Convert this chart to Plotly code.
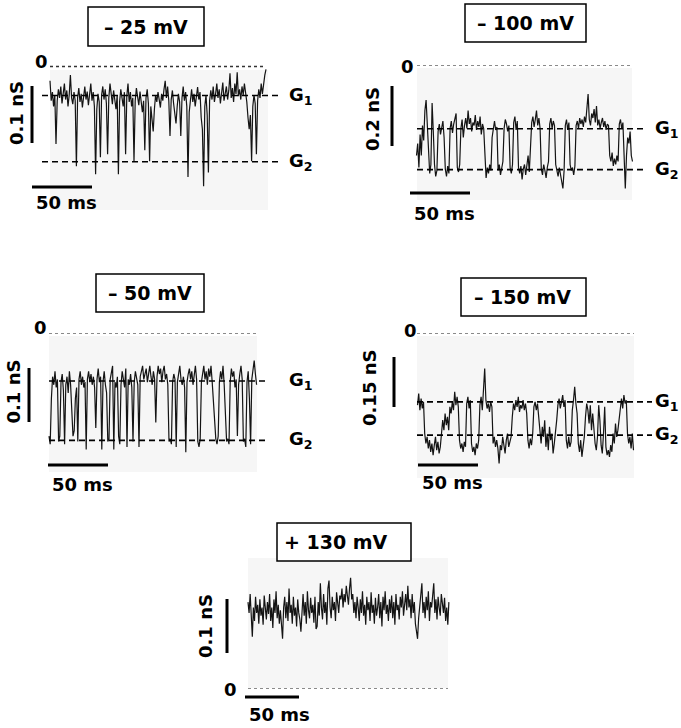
import numpy as np
import plotly.graph_objects as go

W, H = 681, 728

# ---------------- data (conductance traces, pS; sampled every 1 ms) -------------
voltages = ["\u2013 25 mV", "\u2013 100 mV", "\u2013 50 mV", "\u2013 150 mV", "+ 130 mV"]

trace_m25 = [
    -25, -60, -45, -70, -50, -136, -60, -40, -55, -35,
    -65, -48, -30, -58, -42, -70, -50, -15, -55, -66,
    -45, -60, -175, -55, -38, -62, -48, -72, -50, -35,
    -58, -44, -68, -52, -30, -60, -45, -70, -189, -75,
    -48, -62, -159, -50, -35, -58, -40, -65, -154, -55,
    -30, -48, -66, -42, -58, -75, -50, -189, -62, -40,
    -55, -70, -45, -154, -52, -30, -62, -45, -70, -55,
    -166, -60, -38, -52, -68, -44, -58, -80, -60, -147,
    -55, -40, -65, -166, -70, -90, -114, -75, -50, -62,
    -45, -58, -72, -48, -60, -40, -25, -55, -35, -60,
    -122, -58, -42, -65, -85, -100, -70, -48, -62, -122,
    -55, -35, -60, -45, -70, -194, -80, -55, -40, -62,
    -48, -70, -52, -36, -58, -45, -90, -110, -210, -70,
    -50, -85, -186, -60, -42, -58, -35, -62, -48, -30,
    -55, -40, -65, -50, -28, -60, -45, -35, -58, -42,
    -12, -55, -38, -62, -30, -48, -10, -52, -40, -58,
    -35, -50, -30, -45, -62, -90, -110, -85, -166, -70,
    -50, -65, -154, -60, -40, -55, -30, -48, -25, -15,
    -5,
]

trace_m100 = [
    -300, -260, -340, -230, -300, -200, -250, -150, -115, -210,
    -300, -360, -330, -125, -220, -330, -370, -350, -220, -195,
    -230, -205, -185, -240, -345, -370, -335, -360, -210, -185,
    -225, -195, -170, -160, -340, -355, -330, -210, -180, -240,
    -200, -175, -210, -150, -195, -175, -220, -190, -200, -165,
    -215, -185, -205, -170, -230, -195, -210, -320, -375, -340,
    -360, -330, -350, -240, -200, -185, -215, -205, -350, -330,
    -365, -345, -320, -210, -180, -195, -220, -200, -340, -360,
    -330, -190, -170, -215, -185, -340, -360, -335, -380, -345,
    -330, -365, -340, -300, -355, -260, -190, -170, -205, -180,
    -150, -200, -175, -210, -345, -365, -330, -350, -375, -340,
    -320, -195, -175, -210, -185, -200, -330, -350, -370, -340,
    -360, -390, -410, -350, -200, -180, -215, -190, -330, -350,
    -340, -365, -335, -200, -185, -210, -175, -195, -180, -205,
    -170, -190, -150, -95, -180, -200, -160, -175, -145, -190,
    -135, -200, -180, -210, -190, -175, -205, -185, -215, -195,
    -200, -300, -320, -290, -335, -310, -330, -300, -320, -195,
    -180, -210, -190, -350, -410, -300, -240, -260, -220, -300,
    -320,
]

trace_m50 = [
    -190, -205, -120, -80, -95, -70, -100, -85, -200, -190,
    -90, -75, -105, -205, -95, -80, -110, -70, -95, -150,
    -190, -180, -120, -100, -200, -85, -70, -95, -80, -100,
    -90, -215, -85, -70, -90, -75, -95, -80, -100, -175,
    -85, -65, -90, -80, -215, -90, -70, -95, -110, -200,
    -195, -85, -75, -60, -215, -90, -100, -80, -190, -205,
    -95, -70, -85, -100, -65, -210, -85, -95, -75, -100,
    -200, -90, -70, -85, -95, -210, -80, -70, -60, -85,
    -75, -65, -90, -70, -60, -80, -95, -70, -85, -165,
    -80, -60, -75, -65, -90, -70, -60, -85, -75, -95,
    -200, -195, -205, -90, -75, -85, -210, -90, -70, -60,
    -85, -95, -80, -100, -220, -90, -75, -65, -85, -70,
    -95, -80, -60, -85, -200, -210, -195, -90, -75, -60,
    -85, -70, -95, -65, -80, -60, -90, -120, -150, -195,
    -205, -190, -90, -70, -85, -60, -95, -160, -200, -195,
    -205, -90, -65, -80, -70, -100, -85, -190, -95, -75,
    -60, -85, -200, -195, -210, -90, -70, -120, -205, -85,
    -60, -50, -75, -95,
]

trace_m150 = [
    -215, -180, -230, -195, -225, -205, -300, -330, -310, -345,
    -320, -355, -330, -365, -335, -310, -350, -325, -360, -340,
    -300, -260, -290, -240, -275, -250, -290, -220, -240, -205,
    -230, -175, -215, -190, -220, -320, -345, -330, -355, -325,
    -340, -210, -190, -225, -200, -330, -355, -340, -365, -330,
    -345, -320, -215, -190, -230, -170, -105, -200, -225, -210,
    -235, -205, -220, -330, -310, -340, -320, -345, -390, -335,
    -350, -310, -330, -360, -320, -300, -340, -325, -310, -250,
    -210, -230, -200, -220, -190, -235, -215, -225, -200, -230,
    -210, -240, -320, -345, -315, -335, -300, -220, -205, -230,
    -210, -250, -300, -330, -280, -310, -260, -340, -300, -350,
    -280, -320, -300, -360, -330, -300, -260, -215, -195, -225,
    -205, -185, -220, -200, -320, -345, -310, -340, -325, -230,
    -200, -160, -210, -240, -330, -355, -320, -370, -340, -310,
    -250, -210, -230, -270, -215, -290, -240, -300, -330, -350,
    -310, -215, -260, -335, -360, -300, -220, -340, -365, -350,
    -370, -335, -355, -300, -330, -270, -310, -290, -250, -215,
    -195, -225, -185, -210, -200, -300, -330, -310, -345, -300,
    -350,
]

trace_p130 = [
    160, 140, 175, 130, 96, 150, 125, 170, 140, 155,
    120, 165, 135, 150, 118, 172, 145, 128, 160, 138,
    175, 125, 150, 112, 165, 140, 180, 130, 155, 120,
    145, 110, 92, 150, 170, 130, 160, 125, 185, 140,
    155, 120, 170, 135, 150, 115, 165, 140, 128, 105,
    150, 175, 135, 160, 120, 180, 145, 130, 168, 140,
    155, 122, 170, 110, 115, 160, 135, 195, 150, 128,
    175, 140, 160, 118, 185, 200, 150, 130, 170, 145,
    160, 125, 178, 150, 140, 172, 165, 185, 150, 175,
    160, 190, 170, 155, 185, 205, 165, 175, 140, 160,
    130, 170, 150, 125, 165, 140, 180, 135, 155, 118,
    170, 145, 160, 125, 178, 140, 155, 120, 168, 135,
    150, 175, 130, 160, 115, 170, 145, 180, 138, 155,
    125, 165, 140, 172, 130, 160, 118, 175, 145, 155,
    128, 170, 150, 180, 135, 160, 175, 145, 190, 150,
    165, 130, 175, 140, 160, 120, 105, 92, 130, 150,
    175, 195, 140, 160, 130, 170, 145, 180, 125, 160,
    150, 172, 195, 140, 165, 128, 170, 150, 135, 175,
    155, 140, 168, 125, 150, 118, 160,
]

traces = [trace_m25, trace_m100, trace_m50, trace_m150, trace_p130]

# conductance levels G1, G2 (pS) per panel (None = no levels drawn)
levels_G1 = [-51, -211, -88, -205, None]
levels_G2 = [-167, -347, -198, -305, None]

scale_bar_pS = [100, 200, 100, 150, 100]
scale_bar_labels = ["0.1 nS", "0.2 nS", "0.1 nS", "0.15 nS", "0.1 nS"]
time_bar_ms = 50
time_bar_label = "50 ms"
dt_ms = 1.0

# ---------------- layout geometry (pixels) ----------------
panels = [
    dict(x0=50, y0=66.5, sx=1.2, sy=0.57, zero=(50, 266), glines=(42, 278), glab=287,
         bg=(50, 70, 268, 210), vbar=(32, 86), hbar=(32, 187), zlab=(41.5, 61),
         slab=(16, 113), mlab=(66, 202), box=(88, 7, 204, 46), btxt=(146, 27),
         zcol="#333333", zw=1.4),
    dict(x0=416.5, y0=65.5, sx=1.2, sy=0.30, zero=(417, 632), glines=(417, 645), glab=653,
         bg=(417, 68, 632, 200), vbar=(392, 86), hbar=(410, 193), zlab=(407.5, 66),
         slab=(373, 119), mlab=(444, 213), box=(465, 4, 586, 42), btxt=(525, 23),
         zcol="#8a8a8a", zw=1),
    dict(x0=49, y0=333.5, sx=1.2, sy=0.54, zero=(49, 257), glines=(49, 268), glab=287,
         bg=(49, 336, 257, 472), vbar=(29, 368), hbar=(48, 465), zlab=(40, 328),
         slab=(12.5, 392), mlab=(82, 484), box=(96, 274, 204, 312), btxt=(150, 293),
         zcol="#8a8a8a", zw=1),
    dict(x0=417.5, y0=333.5, sx=1.2, sy=1 / 3, zero=(417, 634), glines=(417, 652), glab=653,
         bg=(417, 336, 634, 478), vbar=(394, 357), hbar=(418, 465), zlab=(410, 331),
         slab=(369, 388), mlab=(452, 482), box=(461, 278, 586, 316), btxt=(522, 297),
         zcol="#8a8a8a", zw=1),
    dict(x0=248, y0=688.5, sx=1.08, sy=0.54, zero=(248, 448), glines=None, glab=None,
         bg=(248, 558, 448, 688), vbar=(227, 599), hbar=(245, 697), zlab=(230, 689),
         slab=(205, 626), mlab=(279, 714), box=(277, 523, 411, 561), btxt=(336, 542),
         zcol="#8a8a8a", zw=1),
]

FAM = "DejaVu Sans, Liberation Sans, sans-serif"
FONT = dict(family=FAM, size=18, color="black", weight="bold")
FONT_BOX = dict(family=FAM, size=19, color="black", weight="bold")
FONT_G = dict(family=FAM, size=18, color="black", weight="bold")

fig = go.Figure()
layout = dict(width=W, height=H, margin=dict(l=0, r=0, t=0, b=0),
              paper_bgcolor="white", plot_bgcolor="rgba(0,0,0,0)", showlegend=False)
shapes, annotations = [], []


def px(x):
    return x / W


def py(y):
    return 1 - y / H


for k, (p, vals) in enumerate(zip(panels, traces), start=1):
    xa = "x" if k == 1 else f"x{k}"
    ya = "y" if k == 1 else f"y{k}"
    xkey = "xaxis" if k == 1 else f"xaxis{k}"
    ykey = "yaxis" if k == 1 else f"yaxis{k}"
    T = lambda X, p=p: (X - p["x0"]) / p["sx"]
    G = lambda Y, p=p: (p["y0"] - Y) / p["sy"]
    xd = dict(domain=[0, 1], range=[T(0), T(W)], visible=False, fixedrange=True, anchor=ya)
    yd = dict(domain=[0, 1], range=[G(H), G(0)], visible=False, fixedrange=True, anchor=xa)
    if k > 1:
        xd["overlaying"] = "x"
        yd["overlaying"] = "y"
    layout[xkey] = xd
    layout[ykey] = yd

    # light grey recording background
    bx0, by0, bx1, by1 = p["bg"]
    shapes.append(dict(type="rect", xref=xa, yref=ya, x0=T(bx0), x1=T(bx1), y0=G(by1), y1=G(by0),
                       fillcolor="#f6f6f6", line=dict(width=0), layer="below"))
    # zero level
    shapes.append(dict(type="line", xref=xa, yref=ya, x0=T(p["zero"][0]), x1=T(p["zero"][1]),
                       y0=0, y1=0, line=dict(color=p["zcol"], width=p["zw"], dash="dot")))
    # trace
    t = np.arange(len(vals)) * dt_ms
    fig.add_trace(go.Scatter(x=t, y=vals, xaxis=xa, yaxis=ya, mode="lines",
                             line=dict(color="#141414", width=1.2), hoverinfo="skip"))
    # G levels
    if levels_G1[k - 1] is not None:
        for lv, name in ((levels_G1[k - 1], "G<sub>1</sub>"), (levels_G2[k - 1], "G<sub>2</sub>")):
            shapes.append(dict(type="line", xref=xa, yref=ya, x0=T(p["glines"][0]), x1=T(p["glines"][1]),
                               y0=lv, y1=lv, line=dict(color="black", width=1.6, dash="6px,4px")))
            annotations.append(dict(xref=xa, yref=ya, x=T(p["glab"]), y=lv, text=name, showarrow=False,
                                    xanchor="left", yanchor="middle", font=FONT_G))
    # scale bars
    vx, vtop = p["vbar"]
    shapes.append(dict(type="line", xref=xa, yref=ya, x0=T(vx), x1=T(vx), y0=G(vtop),
                       y1=G(vtop) - scale_bar_pS[k - 1], line=dict(color="black", width=3)))
    hx, hy = p["hbar"]
    shapes.append(dict(type="line", xref=xa, yref=ya, x0=T(hx), x1=T(hx) + time_bar_ms, y0=G(hy),
                       y1=G(hy), line=dict(color="black", width=3)))
    # labels
    annotations.append(dict(xref="paper", yref="paper", x=px(p["zlab"][0]), y=py(p["zlab"][1]), text="0",
                            showarrow=False, xanchor="center", yanchor="middle", font=FONT))
    annotations.append(dict(xref="paper", yref="paper", x=px(p["slab"][0]), y=py(p["slab"][1]),
                            text=scale_bar_labels[k - 1], textangle=-90, showarrow=False,
                            xanchor="center", yanchor="middle", font=FONT))
    annotations.append(dict(xref="paper", yref="paper", x=px(p["mlab"][0]), y=py(p["mlab"][1]),
                            text=time_bar_label, showarrow=False, xanchor="center", yanchor="middle",
                            font=FONT))
    # voltage box
    x0, y0, x1, y1 = p["box"]
    shapes.append(dict(type="rect", xref="paper", yref="paper", x0=px(x0), x1=px(x1), y0=py(y1), y1=py(y0),
                       line=dict(color="black", width=1.5), fillcolor="white"))
    annotations.append(dict(xref="paper", yref="paper", x=px(p["btxt"][0]), y=py(p["btxt"][1]),
                            text=voltages[k - 1], showarrow=False, xanchor="center", yanchor="middle",
                            font=FONT_BOX))

layout["shapes"] = shapes
layout["annotations"] = annotations
fig.update_layout(**layout)
fig.write_html("out.html", config={"displayModeBar": False},
               post_script="document.body.style.margin='0px';")
